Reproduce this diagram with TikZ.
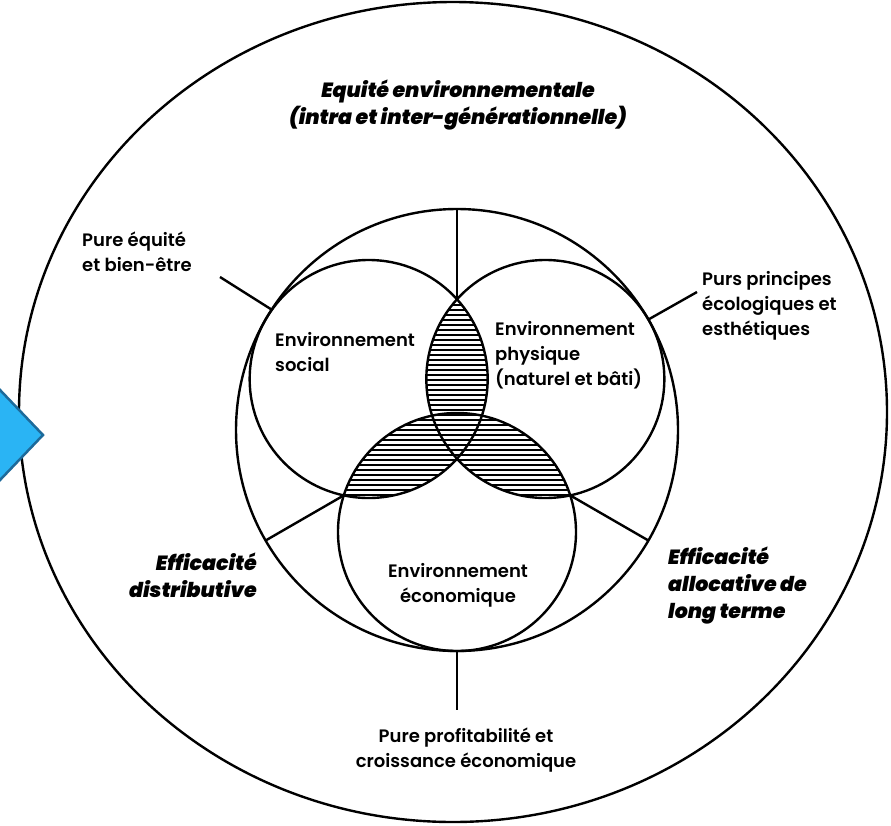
\documentclass[tikz,border=0pt]{standalone}
\usepackage{fontspec}
\setmainfont{Poppins SemiBold}[BoldItalicFont={Poppins Black Italic}]
\usetikzlibrary{calc}

\definecolor{flechebleue}{HTML}{2AB4F4}
\definecolor{bordbleu}{HTML}{1D6A9A}

\begin{document}
\begin{tikzpicture}[x=1pt,y=-1pt,
    every node/.style={inner sep=0pt, font=\fontsize{18}{25}\selectfont},
    gras/.style={font=\fontsize{20.5}{27}\selectfont\bfseries\itshape},
    trait/.style={line width=2.4pt},
    hachure/.style={line width=2.7pt}]
    \useasboundingbox (0,0) rectangle (891,825);

    % centres des cercles
    \coordinate (O) at (457,430);
    \foreach \nom/\ang in {S/150, P/30, E/270} {
        \coordinate (\nom) at ($(O)+(\ang:102pt)$);
    }
    % points des rayons
    \foreach \nom/\ang in {h/90, g/210, d/330} {
        \coordinate (\nom i) at ($(O)+(\ang:131pt)$);
        \coordinate (\nom m) at ($(O)+(\ang:221pt)$);
    }
    \coordinate (bm) at ($(O)+(270:221pt)$);
    \coordinate (bb) at (457,710);
    \coordinate (tS) at ($(O)+(147:221pt)$);
    \coordinate (tP) at ($(O)+(30:221pt)$);

    % hachures des intersections
    \foreach \a/\b in {S/P, S/E, P/E} {
        \begin{scope}
            \clip (\a) circle[radius=119pt];
            \clip (\b) circle[radius=119pt];
            \foreach \y in {290,295,...,590} {
                \draw[hachure] (300,\y) -- (620,\y);
            }
        \end{scope}
    }

    % cercles
    \draw[trait] (453,412) ellipse[x radius=434pt, y radius=410pt];
    \draw[trait] (O) circle[radius=221pt];
    \foreach \nom in {S,P,E} {
        \draw[trait] (\nom) circle[radius=119pt];
    }

    % rayons
    \draw[trait] (hi) -- (hm);
    \draw[trait] (gi) -- (gm);
    \draw[trait] (di) -- (dm);
    \draw[trait] (bm) -- (bb);

    % textes
    \node[gras, align=center] (equite) at (458,105)
        {Equité environnementale\\(intra et inter-générationnelle)};
    \node[anchor=west, align=left] (pure) at (82,252) {Pure équité\\et bien-être};
    \node[anchor=west, align=left] (purs) at (702,306)
        {Purs principes\\écologiques et\\esthétiques};
    \node[anchor=west, align=left] (social) at (275,352) {Environnement\\social};
    \node[anchor=west, align=left] (physique) at (495,355)
        {Environnement\\physique\\(naturel et bâti)};
    \node[align=center] (economique) at (458,585) {Environnement\\économique};
    \node[gras, anchor=east, align=right] (distrib) at (257,575)
        {Efficacité\\distributive};
    \node[gras, anchor=west, align=left] (alloc) at (668,586)
        {Efficacité\\allocative de\\long terme};
    \node[align=center] (profit) at (466,750)
        {Pure profitabilité et\\croissance économique};

    % liaisons
    \coordinate (pureF) at (220,277);
    \coordinate (pursF) at (697,292);
    \draw[trait] (pureF) -- (tS);
    \draw[trait] (pursF) -- (tP);

    % fleche bleue
    \draw[fill=flechebleue, draw=bordbleu, line width=2.5pt]
        (-20,369) -- (43,435) -- (-20,501);
\end{tikzpicture}
\end{document}
